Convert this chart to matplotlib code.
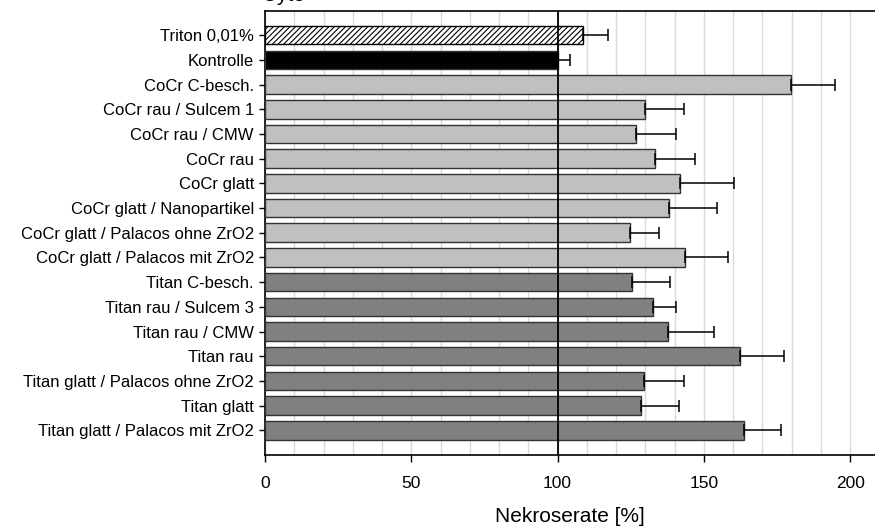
import matplotlib
matplotlib.use("Agg")
import matplotlib.pyplot as plt
from matplotlib.ticker import MultipleLocator

plt.rcParams["font.family"] = ["Liberation Sans", "DejaVu Sans"]
plt.rcParams["hatch.linewidth"] = 0.8

# Data
labels = [
    "Triton 0,01%", "Kontrolle", "CoCr C-besch.", "CoCr rau / Sulcem 1",
    "CoCr rau / CMW", "CoCr rau", "CoCr glatt", "CoCr glatt / Nanopartikel",
    "CoCr glatt / Palacos ohne ZrO2", "CoCr glatt / Palacos mit ZrO2",
    "Titan C-besch.", "Titan rau / Sulcem 3", "Titan rau / CMW", "Titan rau",
    "Titan glatt / Palacos ohne ZrO2", "Titan glatt", "Titan glatt / Palacos mit ZrO2",
]
values = [108.6, 100.0, 179.8, 129.8, 126.7, 133.4, 141.9, 138.2, 124.7, 143.6,
          125.6, 132.5, 137.9, 162.5, 129.5, 128.4, 163.6]
errors = [8.8, 4.3, 15.1, 13.3, 13.9, 13.7, 18.3, 16.3, 10.0, 14.7,
          12.9, 7.9, 15.7, 14.8, 13.7, 13.2, 12.8]
groups = ["triton", "kontrolle"] + ["cocr"] * 8 + ["titan"] * 7

colors = {"triton": "white", "kontrolle": "black", "cocr": "#c0c0c0", "titan": "#808080"}

fig = plt.figure(figsize=(8.75, 5.27), dpi=100)
ax = fig.add_axes([265 / 875, 1 - 455 / 527, 1 - 265 / 875, (455 - 10.5) / 527])

pos = list(range(len(labels)))
bars = ax.barh(pos, values, height=0.75,
               color=[colors[g] for g in groups],
               edgecolor="#333333", linewidth=1.0, zorder=3)
bars[0].set_hatch("//////")
bars[0].set_edgecolor("black")

ax.errorbar(values, pos, xerr=[[0] * len(errors), errors], fmt="none",
            ecolor="black", elinewidth=1.1, capsize=4.5, capthick=1.1, zorder=4)

ax.axvline(100, color="black", linewidth=1.3, zorder=5)

ax.set_xlim(0, 208.5)
ax.set_ylim(17, -1)
ax.set_yticks(pos)
ax.set_yticklabels(labels, fontsize=12)
ax.set_xticks([0, 50, 100, 150, 200])
ax.xaxis.set_minor_locator(MultipleLocator(10))
ax.tick_params(axis="x", labelsize=12.5, length=5, width=1, direction="out", pad=10)
ax.tick_params(axis="x", which="minor", length=0)
ax.tick_params(axis="y", length=4, width=1, direction="out", pad=4)
ax.grid(axis="x", which="both", color="#d9d9d9", linewidth=1.0, zorder=0)
ax.set_axisbelow(True)

ax.spines["right"].set_visible(False)
for s in ["left", "bottom", "top"]:
    ax.spines[s].set_linewidth(1.2)

ax.set_xlabel("Nekroserate [%]", fontsize=15)
ax.xaxis.label.set_verticalalignment("center")
ax.xaxis.set_label_coords(0.5, -(517 - 455) / 444.5)

fig.text(262 / 875, 1 - 1 / 527, "Cyto", fontsize=15, va="baseline", ha="left")

fig.savefig("out.png", dpi=100)
